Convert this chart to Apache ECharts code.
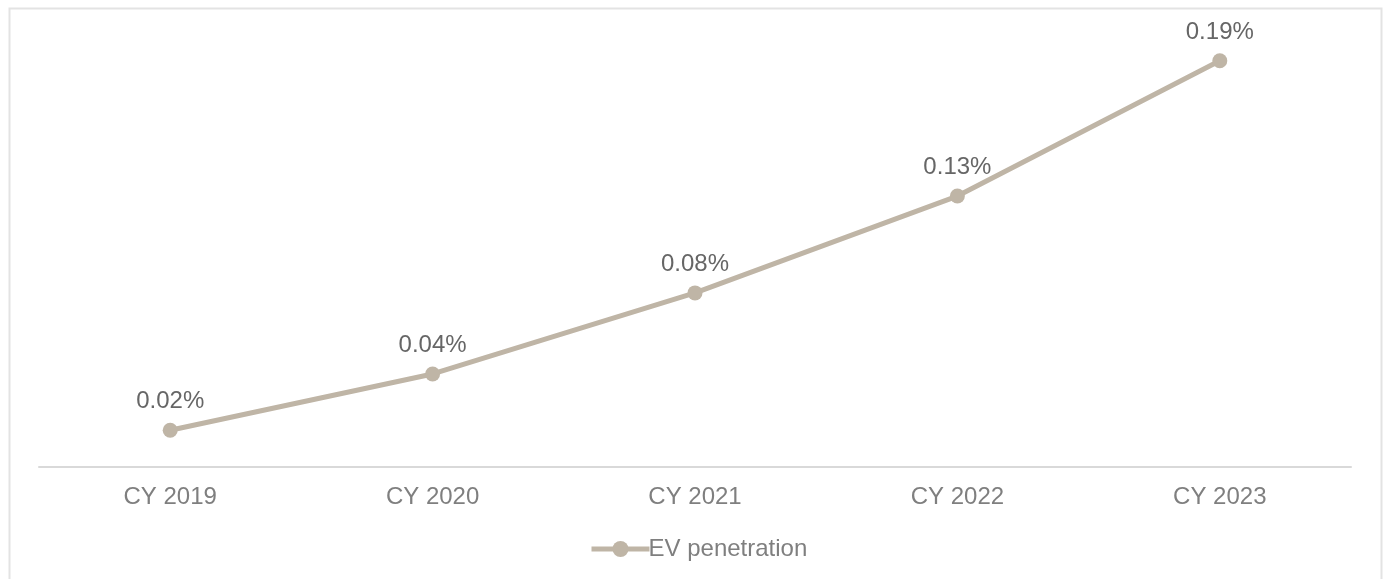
<!DOCTYPE html>
<html>
<head>
<meta charset="utf-8">
<script src="https://cdn.jsdelivr.net/npm/echarts@6/dist/echarts.min.js"></script>
<style>
  html, body { margin: 0; padding: 0; background: #ffffff; }
  #chart { width: 1384px; height: 579px; }
</style>
</head>
<body>
<div id="chart"></div>
<script>
// Calendar years on the category axis
const categories = ['CY 2019', 'CY 2020', 'CY 2021', 'CY 2022', 'CY 2023'];
// EV penetration, in percent
const evPenetration = [0.0172, 0.0435, 0.0814, 0.1267, 0.19];
const seriesName = 'EV penetration';

const FONT = '"Liberation Sans", Arial, sans-serif';
const LINE_COLOR = '#BFB5A6';

const chart = echarts.init(document.getElementById('chart'), null, { renderer: 'canvas' });

chart.setOption({
  animation: false,
  backgroundColor: '#ffffff',
  textStyle: { fontFamily: FONT },
  graphic: [{
    type: 'rect',
    shape: { x: 9.5, y: 8.5, width: 1372, height: 640 },
    style: { fill: 'none', stroke: '#e3e3e3', lineWidth: 2 },
    silent: true
  }],
  grid: { left: 39, right: 33, top: 39.3, bottom: 112, containLabel: false },
  xAxis: {
    type: 'category',
    data: categories,
    boundaryGap: true,
    axisLine: { show: true, lineStyle: { color: '#d9d9d9', width: 2 } },
    axisTick: { show: false },
    axisLabel: { color: '#7f7f7f', fontSize: 24, fontFamily: FONT, margin: 18 },
    splitLine: { show: false }
  },
  yAxis: {
    type: 'value',
    min: 0,
    max: 0.2,
    show: false,
    splitLine: { show: false }
  },
  legend: {
    top: 537,
    left: 589,
    padding: 0,
    itemWidth: 58,
    itemHeight: 20,
    itemGap: 10,
    lineStyle: { width: 5, color: LINE_COLOR },
    textStyle: { color: '#7f7f7f', fontSize: 24, fontFamily: FONT, padding: [0, 0, 0, -6] },
    data: [seriesName]
  },
  series: [{
    name: seriesName,
    type: 'line',
    data: evPenetration,
    smooth: false,
    symbol: 'circle',
    symbolSize: 15,
    lineStyle: { color: LINE_COLOR, width: 5 },
    itemStyle: { color: LINE_COLOR },
    label: {
      show: true,
      position: 'top',
      distance: 9,
      color: '#666666',
      fontSize: 24,
      fontFamily: FONT,
      formatter: p => p.value.toFixed(2) + '%'
    }
  }]
});
</script>
</body>
</html>
